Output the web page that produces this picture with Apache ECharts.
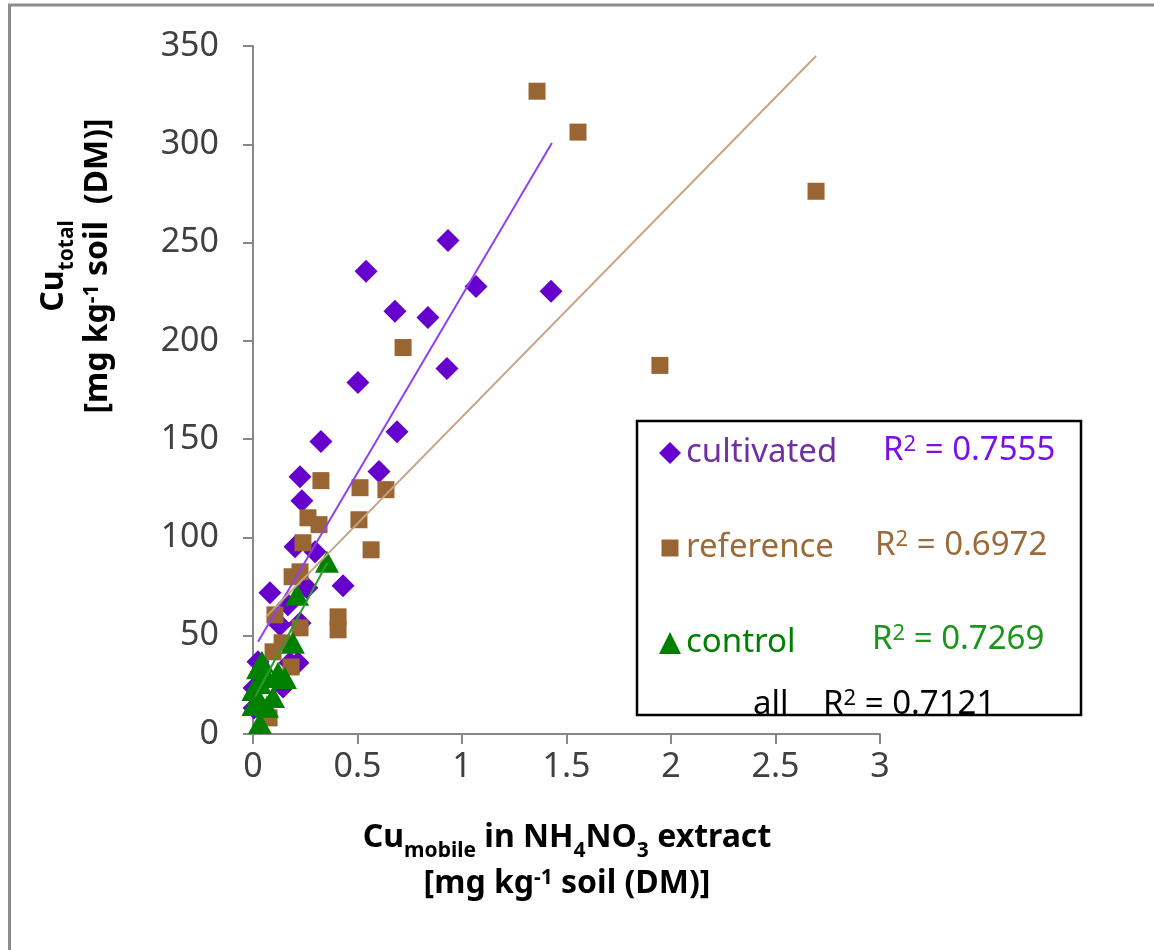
<!DOCTYPE html>
<html><head><meta charset="utf-8">
<script src="https://cdn.jsdelivr.net/npm/echarts@6/dist/echarts.min.js"></script>
<style>html,body{margin:0;padding:0;background:#fff}#c{width:1154px;height:950px}</style>
</head><body><div id="c"></div>
<script>
// ---- data ----
const seriesNames = ['cultivated', 'reference', 'control'];
const cultivated = [
  [0.933, 251.1], [1.067, 227.7], [1.426, 225.2], [0.541, 235.4], [0.679, 215.0],
  [0.837, 211.9], [0.928, 185.9], [0.502, 178.8], [0.689, 153.8], [0.325, 148.8],
  [0.603, 133.5], [0.225, 130.9], [0.234, 118.7], [0.201, 95.3], [0.297, 92.7],
  [0.431, 75.4], [0.258, 74.4], [0.081, 71.8], [0.167, 65.7], [0.129, 55.5],
  [0.225, 56.5], [0.177, 36.2], [0.024, 36.7], [0.215, 36.2], [0.144, 23.9],
  [0.005, 13.2], [0.005, 23.4]
];
const reference = [
  [1.359, 327.0], [1.555, 306.2], [2.694, 276.1], [1.947, 187.5], [0.718, 196.6],
  [0.325, 128.9], [0.512, 125.3], [0.636, 124.3], [0.263, 110.0], [0.316, 106.5],
  [0.507, 109.0], [0.565, 93.7], [0.239, 97.3], [0.225, 82.5], [0.187, 80.0],
  [0.407, 59.6], [0.407, 53.0], [0.105, 60.6], [0.225, 54.0], [0.096, 41.8],
  [0.139, 46.4], [0.182, 34.1], [0.077, 8.2]
];
const control = [
  [0.354, 87.6], [0.211, 70.8], [0.191, 46.4], [0.043, 36.7], [0.120, 31.1],
  [0.153, 28.5], [0.067, 29.0], [0.033, 26.0], [0.002, 22.4], [0.024, 18.3],
  [0.096, 18.8], [0.067, 13.8], [0.033, 5.6], [0.002, 14.8], [0.024, 33.5]
];
const cultivatedTrend = [[0.024, 46.9], [1.43, 300.6]];
const referenceTrend = [[0.062, 59.6], [2.694, 344.9]];
const controlTrend = [[0.01, 19.0], [0.355, 87.0]];
const rSquared = ['0.7555', '0.6972', '0.7269'];
const rSquaredAll = '0.7121';
const xRange = [0, 3, 0.5];
const yRange = [0, 350, 50];

// ---- style ----
const FONT = 'Noto Sans';
const markerColors = ['#6600cc', '#996633', '#008000'];
const nameColors = ['#7030a0', '#9c6a38', '#008000'];
const r2Colors = ['#7a10e8', '#9c6a38', '#1a961a'];
const trendColors = ['#9040f0', '#c8a482', '#2f9a2f'];

const chart = echarts.init(document.getElementById('c'), null, {renderer: 'canvas'});

const axisCommon = {
  axisLine: {show: true, onZero: false, lineStyle: {color: '#888', width: 2}},
  axisTick: {show: true, inside: false, length: 10, lineStyle: {color: '#888', width: 2}},
  splitLine: {show: false},
  axisLabel: {fontSize: 34, fontFamily: FONT, color: '#404040'}
};

const bTok = {fontSize: 32, fontWeight: 'bold', fontFamily: FONT, fill: '#000', lineHeight: 40, verticalAlign: 'top'};
const sTok = {fontSize: 21, fontWeight: 'bold', fontFamily: FONT, fill: '#000', lineHeight: 25, verticalAlign: 'bottom'};
const pTok = {fontSize: 21, fontWeight: 'bold', fontFamily: FONT, fill: '#000', lineHeight: 21, verticalAlign: 'top'};
const richT = {b: bTok, s: sTok, p: pTok};

function titleText(x, y, text, rot) {
  return {type: 'text', x: x, y: y, rotation: rot || 0, z: 20,
    style: {text: text, rich: richT, align: 'center', verticalAlign: 'middle'}};
}
function legendRich(color) {
  return {
    m: {fontSize: 33, fontFamily: FONT, fill: color, lineHeight: 40, verticalAlign: 'top'},
    p: {fontSize: 22, fontFamily: FONT, fill: color, lineHeight: 24, verticalAlign: 'top'}
  };
}
function r2Text(x, y, value, color) {
  return {type: 'text', z: 20, x: x, y: y, style: {
    text: '{m|R}{p|2}{m| = ' + value + '}', align: 'left', verticalAlign: 'middle',
    rich: legendRich(color)}};
}

const option = {
  backgroundColor: '#fff',
  animation: false,
  grid: {left: 253, right: 274, top: 46, bottom: 216, containLabel: false},
  xAxis: Object.assign({type: 'value', min: xRange[0], max: xRange[1], interval: xRange[2]}, axisCommon,
    {axisLabel: Object.assign({}, axisCommon.axisLabel, {margin: 16})}),
  yAxis: Object.assign({type: 'value', min: yRange[0], max: yRange[1], interval: yRange[2]}, axisCommon,
    {axisLabel: Object.assign({}, axisCommon.axisLabel, {margin: 34})}),
  legend: {
    orient: 'vertical', left: 654, top: 428, itemGap: 55, itemWidth: 22, itemHeight: 22,
    selectedMode: false, z: 10,
    textStyle: {fontSize: 33, fontFamily: FONT, lineHeight: 40},
    data: [
      {name: seriesNames[0], icon: 'diamond', textStyle: {color: nameColors[0]}},
      {name: seriesNames[1], icon: 'path://M0,0M22,22M2.5,2.5h17v17h-17z', textStyle: {color: nameColors[1]}},
      {name: seriesNames[2], icon: 'triangle', textStyle: {color: nameColors[2]}}
    ]
  },
  graphic: [
    {type: 'line', shape: {x1: 8, y1: 5, x2: 1154, y2: 5}, style: {stroke: '#8c8c8c', lineWidth: 3}},
    {type: 'line', shape: {x1: 9.5, y1: 4, x2: 9.5, y2: 950}, style: {stroke: '#8c8c8c', lineWidth: 3}},
    {type: 'rect', z: 1, shape: {x: 637, y: 421, width: 444, height: 294},
      style: {fill: '#fff', stroke: '#000', lineWidth: 2.5}},
    r2Text(883, 454, rSquared[0], r2Colors[0]),
    r2Text(875, 549, rSquared[1], r2Colors[1]),
    r2Text(872, 643, rSquared[2], r2Colors[2]),
    {type: 'text', z: 20, x: 753, y: 708, style: {text: '{m|all}', align: 'left', verticalAlign: 'middle', rich: legendRich('#000')}},
    r2Text(823, 708, rSquaredAll, '#000'),
    titleText(567, 842, '{b|Cu}{s|mobile}{b| in NH}{s|4}{b|NO}{s|3}{b| extract}'),
    titleText(567, 888, '{b|[mg kg}{p|-1}{b| soil (DM)]}'),
    titleText(58, 266, '{b|Cu}{s|total}', Math.PI / 2),
    titleText(102, 266, '{b|[mg kg}{p|-1}{b| soil  (DM)]}', Math.PI / 2)
  ],
  series: [
    {name: seriesNames[0], type: 'scatter', data: cultivated, symbol: 'diamond', symbolSize: 23,
      itemStyle: {color: markerColors[0], opacity: 1}, z: 3},
    {name: seriesNames[1], type: 'scatter', data: reference, symbol: 'rect', symbolSize: 17,
      itemStyle: {color: markerColors[1], opacity: 1}, z: 3},
    {name: seriesNames[2], type: 'scatter', data: control, symbol: 'triangle', symbolSize: [24, 22],
      itemStyle: {color: markerColors[2], opacity: 1}, z: 3},
    {name: 'trend-cultivated', type: 'line', data: cultivatedTrend, symbol: 'none', silent: true,
      lineStyle: {color: trendColors[0], width: 2}, z: 5},
    {name: 'trend-reference', type: 'line', data: referenceTrend, symbol: 'none', silent: true,
      lineStyle: {color: trendColors[1], width: 2}, z: 5},
    {name: 'trend-control', type: 'line', data: controlTrend, symbol: 'none', silent: true,
      lineStyle: {color: trendColors[2], width: 2}, z: 5}
  ]
};
chart.setOption(option);
</script>
</body></html>
